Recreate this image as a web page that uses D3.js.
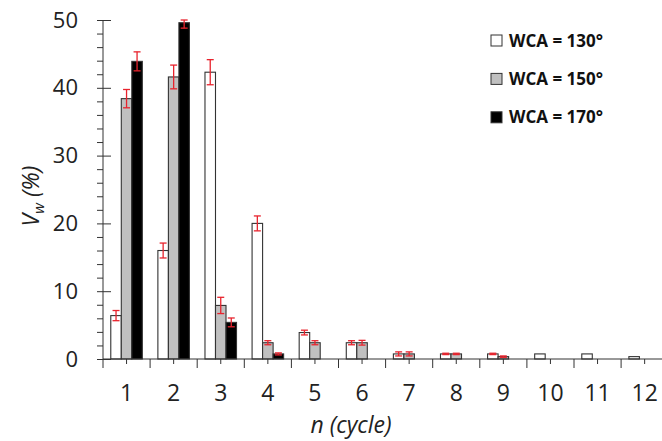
<!DOCTYPE html>
<html lang="en">
<head>
  <meta charset="utf-8">
  <title>Vw vs cycle</title>
  <script src="https://d3js.org/d3.v7.min.js"></script>
  <style>
    body { margin: 0; background: #fff; }
    svg { display: block; }
  </style>
</head>
<body>
<div id="chart"></div>
<script>
  // data
  var cycles = ["1", "2", "3", "4", "5", "6", "7", "8", "9", "10", "11", "12"];
  var seriesNames = ["WCA = 130°", "WCA = 150°", "WCA = 170°"];
  var seriesFill = ["#ffffff", "#c0c0c0", "#000000"];

  var wca130 = [6.4, 16.0, 42.3, 20.0, 3.9, 2.4, 0.75, 0.75, 0.75, 0.75, 0.75, 0.35];
  var wca150 = [38.4, 41.6, 7.9, 2.4, 2.4, 2.4, 0.75, 0.75, 0.35, null, null, null];
  var wca170 = [43.9, 49.6, 5.4, 0.75, null, null, null, null, null, null, null, null];

  var err130 = [0.75, 1.1, 1.85, 1.1, 0.35, 0.3, 0.3, 0.1, 0.1, 0, 0, 0];
  var err150 = [1.35, 1.75, 1.2, 0.3, 0.3, 0.35, 0.3, 0.1, 0.1, 0, 0, 0];
  var err170 = [1.4, 0.8, 0.65, 0.15, 0, 0, 0, 0, 0, 0, 0, 0];

  var yTicks = [0, 10, 20, 30, 40, 50];

  var width = 662, height = 441;
  var plotLeft = 103, plotBottom = 359, plotTop = 20;
  var groupW = 47.1;
  var font = "Open Sans";

  var svg = d3.select("#chart").append("svg")
    .attr("width", width)
    .attr("height", height);

  var x = d3.scaleBand().domain(cycles).range([plotLeft, plotLeft + groupW * cycles.length]).padding(0);
  var xs = d3.scaleBand().domain(d3.range(3)).range([0, x.bandwidth()]).paddingInner(0).paddingOuter(0.74);
  var y = d3.scaleLinear().domain([0, 50]).range([plotBottom, plotTop]);

  var values = [wca130, wca150, wca170];
  var errors = [err130, err150, err170];

  var rows = [];
  values.forEach(function(arr, s) {
    arr.forEach(function(v, i) {
      if (v !== null) rows.push({ s: s, c: cycles[i], v: v, e: errors[s][i] });
    });
  });

  // bars
  svg.append("g").selectAll("rect")
    .data(rows)
    .enter().append("rect")
    .attr("x", function(d) { return x(d.c) + xs(d.s); })
    .attr("y", function(d) { return y(d.v); })
    .attr("width", xs.bandwidth())
    .attr("height", function(d) { return plotBottom - y(d.v); })
    .attr("fill", function(d) { return seriesFill[d.s]; })
    .attr("stroke", "#333")
    .attr("stroke-width", 1.1);

  // error bars
  var eb = svg.append("g").attr("stroke", "#e8232d").attr("stroke-width", 1.3)
    .selectAll("g")
    .data(rows.filter(function(d) { return d.e > 0; }))
    .enter().append("g")
    .attr("transform", function(d) { return "translate(" + (x(d.c) + xs(d.s) + xs.bandwidth() / 2) + ",0)"; });
  eb.append("line")
    .attr("y1", function(d) { return y(d.v - d.e); })
    .attr("y2", function(d) { return y(Math.min(50, d.v + d.e)); });
  eb.append("line").attr("x1", -3.5).attr("x2", 3.5)
    .attr("y1", function(d) { return y(d.v - d.e); })
    .attr("y2", function(d) { return y(d.v - d.e); });
  eb.append("line").attr("x1", -3.5).attr("x2", 3.5)
    .attr("y1", function(d) { return y(Math.min(50, d.v + d.e)); })
    .attr("y2", function(d) { return y(Math.min(50, d.v + d.e)); });

  // y axis with minor ticks
  var yAxis = svg.append("g").attr("transform", "translate(" + plotLeft + ",0)");
  yAxis.append("g")
    .call(d3.axisLeft(y).tickValues(d3.range(0, 51, 2)).tickSize(6).tickFormat(""))
    .call(function(g) { g.select(".domain").remove(); });
  yAxis.append("g")
    .call(d3.axisLeft(y).tickValues(yTicks).tickSize(7).tickPadding(18)
      .tickFormat(d3.format("d")))
    .call(function(g) {
      g.select(".domain").remove();
      g.selectAll(".tick line").attr("x2", 8);
      g.selectAll("text").attr("font-size", "22px").attr("font-family", font).attr("fill", "#222");
    });
  yAxis.selectAll("line").attr("stroke", "#333");
  yAxis.append("line").attr("y1", plotBottom).attr("y2", plotTop).attr("stroke", "#333");

  // x axis: long ticks at group edges, short at centres
  var xAxis = svg.append("g").attr("transform", "translate(0," + plotBottom + ")");
  xAxis.append("line").attr("x1", plotLeft).attr("x2", width).attr("stroke", "#333");
  xAxis.selectAll(".edge")
    .data(cycles)
    .enter().append("line")
    .attr("class", "edge")
    .attr("x1", function(d) { return x(d); })
    .attr("x2", function(d) { return x(d); })
    .attr("y1", 0).attr("y2", 9)
    .attr("stroke", "#333");
  xAxis.append("g")
    .call(d3.axisBottom(x).tickSize(5).tickPadding(21))
    .call(function(g) {
      g.select(".domain").remove();
      g.selectAll("line").attr("stroke", "#333");
      g.selectAll("text").attr("font-size", "23px").attr("font-family", font).attr("fill", "#222");
    });

  // axis titles
  svg.append("text")
    .attr("x", 351).attr("y", 433)
    .attr("text-anchor", "middle")
    .attr("font-size", "23px").attr("font-family", font).attr("font-style", "italic").attr("fill", "#222")
    .text("n (cycle)");

  var yt = svg.append("text")
    .attr("transform", "translate(39,196) rotate(-90)")
    .attr("text-anchor", "middle")
    .attr("font-size", "23px").attr("font-family", font).attr("font-style", "italic").attr("fill", "#222");
  yt.append("tspan").text("V");
  yt.append("tspan").attr("font-size", "15px").attr("dy", 5).text("w");
  yt.append("tspan").attr("dy", -5).text(" (%)");

  // legend
  var lg = svg.append("g").selectAll("g")
    .data(seriesNames)
    .enter().append("g")
    .attr("transform", function(d, i) { return "translate(491," + (35 + i * 38.4) + ")"; });
  lg.append("rect")
    .attr("width", 11).attr("height", 11)
    .attr("fill", function(d, i) { return seriesFill[i]; })
    .attr("stroke", "#333");
  lg.append("text")
    .attr("x", 18).attr("y", 11.5)
    .attr("font-size", "17px").attr("font-family", font).attr("font-weight", "bold").attr("fill", "#111")
    .text(function(d) { return d; });
</script>
</body>
</html>
